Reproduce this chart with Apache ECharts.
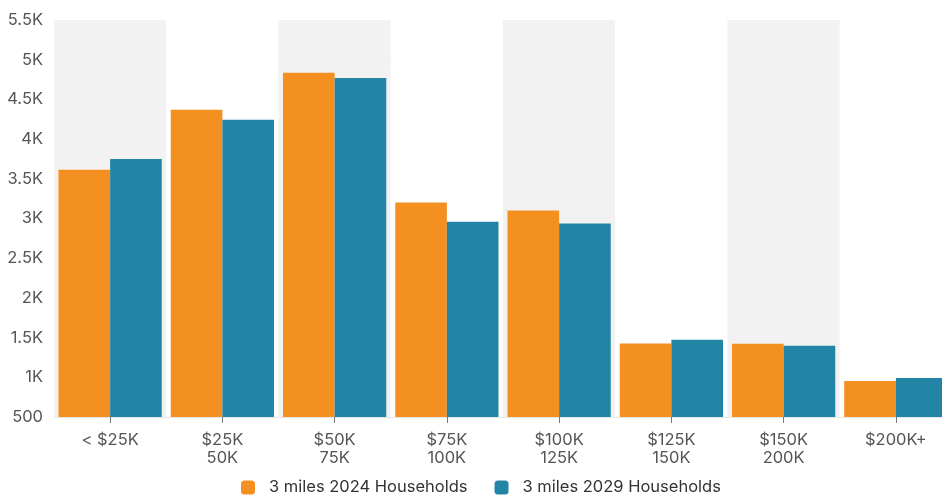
<!DOCTYPE html>
<html>
<head>
<meta charset="utf-8">
<script src="https://cdn.jsdelivr.net/npm/echarts@6/dist/echarts.min.js"></script>
<style>
  html, body { margin: 0; padding: 0; background: #ffffff; }
  #chart { width: 942px; height: 498px; }
</style>
</head>
<body>
<div id="chart"></div>
<script>
// Household income brackets (x axis)
const categories = ['< $25K', '$25K\n50K', '$50K\n75K', '$75K\n100K', '$100K\n125K', '$125K\n150K', '$150K\n200K', '$200K+'];
// Households within 3 miles
const households2024 = [3614, 4370, 4836, 3203, 3102, 1427, 1423, 952];
const households2029 = [3748, 4244, 4768, 2960, 2938, 1474, 1398, 990];
const seriesNames = ['3 miles 2024 Households', '3 miles 2029 Households'];
const colors = ['#F39020', '#2385A6'];

const chart = echarts.init(document.getElementById('chart'));
const font = 'Inter, "Noto Sans", sans-serif';

chart.setOption({
  animation: false,
  color: colors,
  textStyle: { fontFamily: font },
  // plot area runs slightly past the right edge of the canvas
  grid: { left: 54, width: 898, top: 20, bottom: 81, containLabel: false, outerBoundsMode: 'none' },
  legend: {
    top: 474,
    left: 236,
    itemWidth: 14,
    itemHeight: 14,
    itemGap: 27,
    icon: 'roundRect',
    formatter: name => '{t|' + name + '}',
    textStyle: {
      fontSize: 16.5, color: '#333', fontFamily: font,
      rich: { t: { fontSize: 16.5, color: '#333', fontFamily: font, padding: [0, 0, 0, 9] } }
    },
    data: seriesNames
  },
  xAxis: {
    type: 'category',
    data: categories,
    axisLine: { show: false },
    axisTick: { show: true, alignWithLabel: true, length: 6, lineStyle: { color: '#777' } },
    axisLabel: { fontSize: 16.5, color: '#555', lineHeight: 18, margin: 14, fontFamily: font },
    splitArea: { show: true, areaStyle: { color: ['#f2f2f2', '#ffffff'] } }
  },
  yAxis: {
    type: 'value',
    min: 500,
    max: 5500,
    interval: 500,
    axisLine: { show: false },
    axisTick: { show: false },
    axisLabel: {
      fontSize: 16.5,
      color: '#555',
      margin: 11,
      fontFamily: font,
      formatter: v => v < 1000 ? String(v) : (v / 1000) + 'K'
    },
    splitLine: { show: true, lineStyle: { color: '#e6e6e6' } }
  },
  series: [
    { name: seriesNames[0], type: 'bar', data: households2024, barGap: '0%', barCategoryGap: '8%' },
    { name: seriesNames[1], type: 'bar', data: households2029, barGap: '0%', barCategoryGap: '8%' }
  ]
});
</script>
</body>
</html>
